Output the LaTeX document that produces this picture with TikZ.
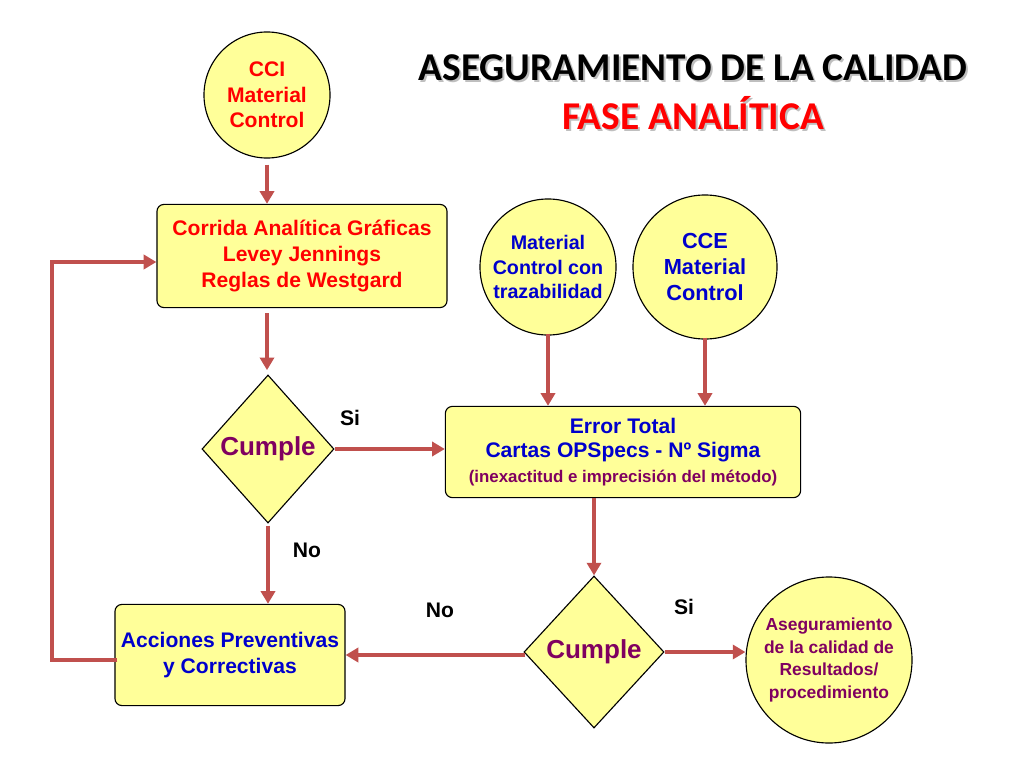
\documentclass[tikz,border=0pt]{standalone}
\usepackage{fontspec}
\setmainfont{Liberation Sans}
\newfontfamily\titlefont{Carlito}
\usetikzlibrary{shapes.geometric,arrows.meta}
\definecolor{fillY}{HTML}{FFFF99}
\definecolor{arr}{HTML}{C0504D}
\definecolor{tblue}{HTML}{0000CC}
\definecolor{tpurple}{HTML}{800060}
\begin{document}
\begin{tikzpicture}[x=0.025cm,y=-0.025cm,
  box/.style={draw=black,fill=fillY,rounded corners=5pt,line width=0.8pt,align=center,font=\bfseries\fontsize{15}{18.5}\selectfont,inner sep=0pt},
  circ/.style={draw=black,fill=fillY,circle,line width=0.8pt,align=center,font=\bfseries\fontsize{15}{18}\selectfont,inner sep=0pt},
  dia/.style={draw=black,fill=fillY,diamond,line width=0.8pt,inner sep=0pt,font=\bfseries\fontsize{18.5}{20}\selectfont,text=tpurple},
  conn/.style={draw=arr,line width=2.8pt,-{Triangle[length=9pt,width=10pt]}},
  lab/.style={font=\bfseries\fontsize{15}{18}\selectfont},
  ttl/.style={font=\titlefont\bfseries\fontsize{28}{32}\selectfont}]
\useasboundingbox (0,0) rectangle (1024,768);
\node[ttl,text=gray!50] (t1s) at (695,70) {ASEGURAMIENTO DE LA CALIDAD};
\node[ttl] (t1) at (693,68) {ASEGURAMIENTO DE LA CALIDAD};
\node[ttl,text=gray!50] (t2s) at (695,115) {FASE ANALÍTICA};
\node[ttl,text=red] (t2) at (693,113) {FASE ANALÍTICA};

\node[circ,text=red,minimum size=3.15cm] (cci) at (267,95) {CCI\\Material\\Control};
\node[box,text=red,minimum width=7.25cm,minimum height=2.58cm] (b1) at (302,256) {Corrida Analítica Gráficas\\Levey Jennings\\Reglas de Westgard};
\node[circ,text=tblue,minimum size=3.4cm,font=\bfseries\fontsize{14}{17.5}\selectfont] (mc) at (548,267) {Material\\Control con\\trazabilidad};
\node[circ,text=tblue,minimum size=3.6cm,font=\bfseries\fontsize{15.5}{18.5}\selectfont] (cce) at (705,267) {CCE\\Material\\Control};
\node[box,text=tblue,minimum width=8.88cm,minimum height=2.28cm,font=\bfseries\fontsize{15}{17.5}\selectfont] (et) at (623,452) {Error Total\\Cartas OPSpecs - Nº Sigma\\{\color{tpurple}\fontsize{12}{14}\selectfont(inexactitud e imprecisión del método)}};
\node[dia,minimum width=3.3cm,minimum height=3.7cm] (d1) at (268,449) {Cumple};
\node[box,text=tblue,minimum width=5.75cm,minimum height=2.53cm] (ac) at (230,655) {Acciones Preventivas\\y Correctivas};
\node[dia,minimum width=3.5cm,minimum height=3.8cm] (d2) at (594,652) {Cumple};
\node[circ,text=tpurple,minimum size=4.15cm,font=\bfseries\fontsize{12.4}{16}\selectfont] (as) at (829,660) {Aseguramiento\\de la calidad de\\Resultados/\\procedimiento};

\draw[conn] (cci.south) ++(0,6) -- (b1.north -| cci.south);
\draw[conn] (b1.south) ++(-35,5) -- ++(0,57);
\draw[conn] (d1.east) -- (et.west |- d1.east);
\node[lab] (si1) at (350,418) {Si};
\draw[conn] (d1.south) ++(0,2) -- (ac.north -| d1.south);
\node[lab] (no1) at (307,550) {No};
\draw[conn] (ac.west) ++(3,5) -- (52,660) -- (52,262) -- (b1.west |- 0,262);
\draw[conn] (mc.south) ++(0,-2) -- (et.north -| mc.south);
\draw[conn] (cce.south) ++(0,-2) -- (et.north -| cce.south);
\draw[conn] (et.south -| d2.north) -- (d2.north);
\draw[conn] (d2.west) ++(2,3) -- (ac.east |- 0,655);
\node[lab] (no2) at (440,610) {No};
\draw[conn] (d2.east) -- (as.west |- d2.east);
\node[lab] (si2) at (684,607) {Si};
\end{tikzpicture}
\end{document}
